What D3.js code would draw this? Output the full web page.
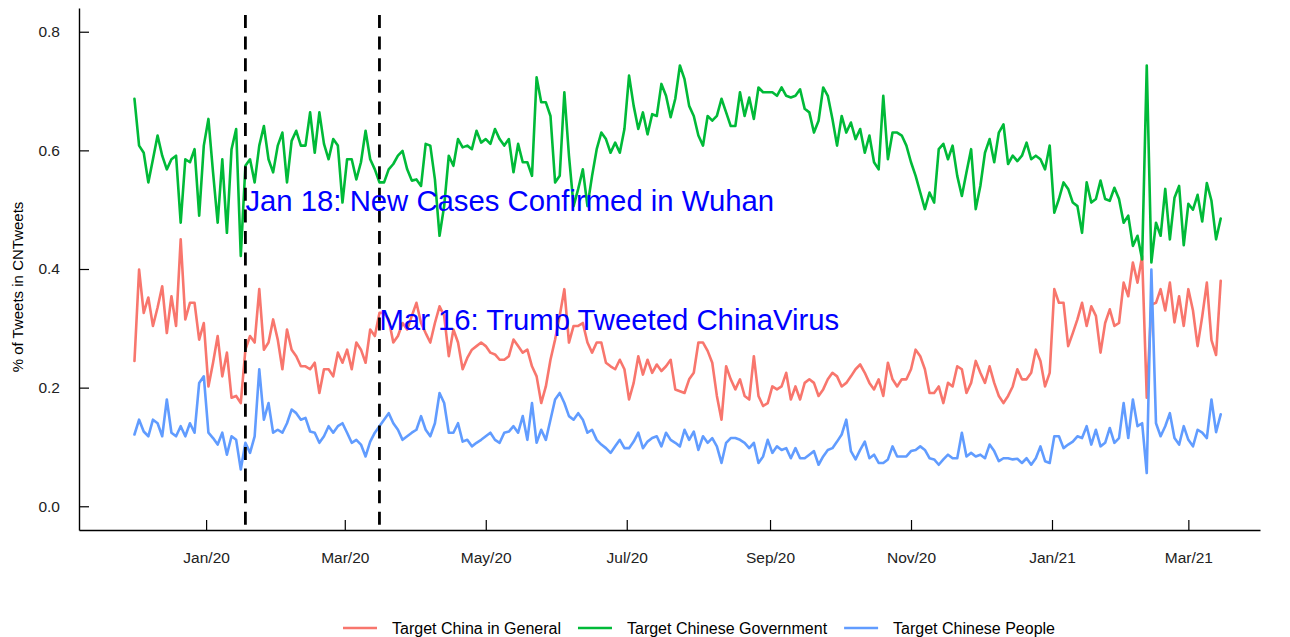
<!DOCTYPE html>
<html>
<head>
<meta charset="utf-8">
<script src="https://cdnjs.cloudflare.com/ajax/libs/d3/7.8.5/d3.min.js"></script>
<style>
  body { margin: 0; background: #fff; }
  svg { display: block; font-family: "Liberation Sans", Arial, Helvetica, sans-serif; }
</style>
</head>
<body>
<script>
"use strict";

var width = 1290,
    height = 637;

// share of tweets, one reading every 2 days starting 2019-12-01
const startDate = "2019-12-01";
const stepDays = 2;

const seriesNames = ["Target China in General", "Target Chinese Government", "Target Chinese People"];
const seriesColors = ["#F8766D", "#00BA38", "#619CFF"];

const chinaGeneral = [
  0.245, 0.399, 0.326, 0.352, 0.304, 0.335, 0.371, 0.292, 0.354, 0.304,
  0.450, 0.315, 0.343, 0.343, 0.281, 0.309, 0.202, 0.242, 0.287, 0.219,
  0.259, 0.183, 0.186, 0.174, 0.264, 0.287, 0.276, 0.366, 0.264, 0.276,
  0.315, 0.281, 0.231, 0.298, 0.264, 0.253, 0.236, 0.236, 0.231, 0.242,
  0.191, 0.231, 0.231, 0.219, 0.259, 0.242, 0.264, 0.231, 0.276, 0.264,
  0.242, 0.298, 0.287, 0.326, 0.326, 0.315, 0.276, 0.287, 0.309, 0.298,
  0.321, 0.343, 0.309, 0.292, 0.276, 0.309, 0.337, 0.321, 0.253, 0.298,
  0.276, 0.231, 0.250, 0.264, 0.270, 0.276, 0.270, 0.259, 0.256, 0.247,
  0.247, 0.253, 0.281, 0.270, 0.259, 0.264, 0.236, 0.219, 0.174, 0.202,
  0.247, 0.281, 0.321, 0.366, 0.276, 0.304, 0.304, 0.309, 0.276, 0.259,
  0.276, 0.276, 0.242, 0.236, 0.231, 0.247, 0.231, 0.180, 0.208, 0.253,
  0.222, 0.247, 0.225, 0.239, 0.228, 0.236, 0.247, 0.197, 0.194, 0.191,
  0.214, 0.225, 0.276, 0.276, 0.262, 0.242, 0.186, 0.146, 0.236, 0.214,
  0.197, 0.214, 0.186, 0.180, 0.253, 0.186, 0.169, 0.174, 0.202, 0.197,
  0.202, 0.225, 0.180, 0.202, 0.180, 0.208, 0.214, 0.208, 0.186, 0.197,
  0.214, 0.225, 0.219, 0.202, 0.208, 0.219, 0.231, 0.239, 0.225, 0.208,
  0.197, 0.214, 0.186, 0.242, 0.214, 0.202, 0.214, 0.214, 0.231, 0.264,
  0.253, 0.231, 0.191, 0.191, 0.202, 0.174, 0.208, 0.202, 0.236, 0.231,
  0.191, 0.208, 0.245, 0.225, 0.208, 0.236, 0.208, 0.186, 0.174, 0.186,
  0.202, 0.231, 0.214, 0.214, 0.225, 0.264, 0.245, 0.202, 0.225, 0.366,
  0.343, 0.343, 0.270, 0.292, 0.315, 0.343, 0.304, 0.337, 0.321, 0.259,
  0.309, 0.332, 0.304, 0.309, 0.377, 0.354, 0.411, 0.377, 0.422, 0.183,
  0.340, 0.343, 0.366, 0.330, 0.377, 0.310, 0.354, 0.304, 0.366, 0.330,
  0.270, 0.320, 0.377, 0.280, 0.255, 0.380
];

const chineseGov = [
  0.687, 0.608, 0.596, 0.546, 0.585, 0.625, 0.591, 0.568, 0.585, 0.591,
  0.478, 0.585, 0.580, 0.602, 0.490, 0.608, 0.653, 0.563, 0.478, 0.585,
  0.461, 0.602, 0.636, 0.422, 0.574, 0.585, 0.546, 0.608, 0.641, 0.585,
  0.563, 0.608, 0.630, 0.546, 0.616, 0.633, 0.608, 0.608, 0.664, 0.596,
  0.664, 0.611, 0.585, 0.619, 0.608, 0.512, 0.585, 0.585, 0.551, 0.580,
  0.633, 0.585, 0.568, 0.546, 0.546, 0.568, 0.577, 0.591, 0.599, 0.568,
  0.549, 0.551, 0.540, 0.611, 0.608, 0.551, 0.456, 0.506, 0.591, 0.574,
  0.619, 0.605, 0.608, 0.602, 0.633, 0.613, 0.619, 0.611, 0.636, 0.619,
  0.608, 0.619, 0.563, 0.611, 0.580, 0.580, 0.557, 0.723, 0.681, 0.681,
  0.658, 0.546, 0.557, 0.698, 0.591, 0.506, 0.535, 0.568, 0.506, 0.557,
  0.602, 0.630, 0.619, 0.596, 0.613, 0.596, 0.636, 0.726, 0.675, 0.636,
  0.664, 0.627, 0.661, 0.658, 0.712, 0.692, 0.656, 0.687, 0.743, 0.720,
  0.675, 0.658, 0.625, 0.608, 0.658, 0.650, 0.658, 0.687, 0.664, 0.641,
  0.641, 0.698, 0.658, 0.689, 0.653, 0.706, 0.698, 0.698, 0.698, 0.692,
  0.706, 0.692, 0.689, 0.692, 0.703, 0.670, 0.664, 0.630, 0.650, 0.706,
  0.692, 0.653, 0.608, 0.658, 0.630, 0.647, 0.619, 0.636, 0.596, 0.625,
  0.580, 0.568, 0.692, 0.585, 0.630, 0.630, 0.625, 0.608, 0.580, 0.557,
  0.529, 0.501, 0.529, 0.512, 0.602, 0.611, 0.585, 0.608, 0.557, 0.523,
  0.563, 0.602, 0.501, 0.540, 0.596, 0.619, 0.580, 0.630, 0.644, 0.577,
  0.591, 0.582, 0.591, 0.613, 0.585, 0.591, 0.585, 0.568, 0.608, 0.495,
  0.518, 0.546, 0.535, 0.512, 0.506, 0.461, 0.546, 0.512, 0.518, 0.549,
  0.518, 0.515, 0.537, 0.518, 0.478, 0.490, 0.439, 0.456, 0.416, 0.743,
  0.411, 0.478, 0.456, 0.535, 0.450, 0.520, 0.540, 0.440, 0.510, 0.500,
  0.525, 0.480, 0.545, 0.515, 0.450, 0.485
];

const chinesePeople = [
  0.121, 0.146, 0.126, 0.118, 0.146, 0.140, 0.118, 0.180, 0.124, 0.118,
  0.135, 0.118, 0.140, 0.124, 0.208, 0.219, 0.124, 0.115, 0.104, 0.124,
  0.087, 0.118, 0.112, 0.062, 0.107, 0.090, 0.118, 0.231, 0.146, 0.174,
  0.124, 0.129, 0.124, 0.140, 0.163, 0.157, 0.146, 0.149, 0.126, 0.124,
  0.107, 0.118, 0.135, 0.124, 0.135, 0.140, 0.124, 0.107, 0.112, 0.104,
  0.084, 0.109, 0.124, 0.135, 0.146, 0.157, 0.140, 0.129, 0.112, 0.118,
  0.124, 0.129, 0.152, 0.129, 0.118, 0.140, 0.191, 0.174, 0.124, 0.124,
  0.140, 0.109, 0.112, 0.101, 0.107, 0.112, 0.118, 0.124, 0.112, 0.107,
  0.124, 0.126, 0.135, 0.124, 0.152, 0.112, 0.174, 0.107, 0.129, 0.112,
  0.146, 0.180, 0.191, 0.174, 0.152, 0.146, 0.157, 0.146, 0.124, 0.129,
  0.112, 0.104, 0.098, 0.090, 0.101, 0.112, 0.098, 0.098, 0.109, 0.124,
  0.098, 0.109, 0.115, 0.118, 0.101, 0.124, 0.112, 0.107, 0.101, 0.129,
  0.112, 0.126, 0.095, 0.118, 0.107, 0.115, 0.101, 0.073, 0.107, 0.115,
  0.115, 0.112, 0.107, 0.098, 0.107, 0.073, 0.084, 0.112, 0.090, 0.101,
  0.095, 0.098, 0.081, 0.098, 0.081, 0.081, 0.087, 0.093, 0.070, 0.084,
  0.095, 0.098, 0.109, 0.121, 0.146, 0.093, 0.079, 0.095, 0.109, 0.081,
  0.087, 0.073, 0.073, 0.079, 0.101, 0.084, 0.084, 0.084, 0.093, 0.095,
  0.101, 0.095, 0.081, 0.079, 0.070, 0.079, 0.087, 0.081, 0.081, 0.124,
  0.084, 0.090, 0.084, 0.087, 0.081, 0.104, 0.093, 0.076, 0.081, 0.081,
  0.079, 0.080, 0.073, 0.081, 0.070, 0.081, 0.101, 0.076, 0.073, 0.118,
  0.118, 0.098, 0.104, 0.109, 0.118, 0.115, 0.135, 0.104, 0.129, 0.101,
  0.107, 0.132, 0.107, 0.115, 0.174, 0.115, 0.180, 0.135, 0.140, 0.056,
  0.399, 0.140, 0.118, 0.135, 0.157, 0.115, 0.104, 0.135, 0.112, 0.101,
  0.129, 0.124, 0.115, 0.180, 0.125, 0.155
];

const xLimits = ["2019-11-07", "2021-04-01"];
const xTicks = ["2020-01-01", "2020-03-01", "2020-05-01", "2020-07-01",
                "2020-09-01", "2020-11-01", "2021-01-01", "2021-03-01"];
const yTicks = [0, 0.2, 0.4, 0.6, 0.8];
const yLimits = [0, 0.8];

const eventDates = ["2020-01-18", "2020-03-16"];
const eventLabels = ["Jan 18: New Cases Confirmed in Wuhan", "Mar 16: Trump Tweeted ChinaVirus"];
const eventLabelY = [0.52, 0.32];

const yTitle = "% of Tweets in CNTweets";

let svg = "";

window.onload = function () {
    svg = d3.select("body")
        .append("svg")
        .attr("width", width)
        .attr("height", height);

    svg.append("rect")
        .attr("width", width)
        .attr("height", height)
        .attr("fill", "#fff");

    drawChart();
}

function drawChart() {
    const parse = d3.timeParse("%Y-%m-%d");
    const t0 = parse(startDate);
    const dates = chinaGeneral.map((d, i) => d3.timeDay.offset(t0, i * stepDays));

    const panel = { left: 79, right: 1260, top: 8, bottom: 530 };
    const x = d3.scaleTime()
        .domain(xLimits.map(parse))
        .range([panel.left, panel.right]);
    // y limits expanded 5% on each side like ggplot
    const ypad = (yLimits[1] - yLimits[0]) * 0.05;
    const y = d3.scaleLinear()
        .domain([yLimits[0] - ypad, yLimits[1] + ypad])
        .range([panel.bottom, panel.top]);

    // axes
    const xAxis = d3.axisBottom(x)
        .tickValues(xTicks.map(parse))
        .tickFormat(d3.timeFormat("%b/%y"))
        .tickSizeInner(-10)
        .tickSizeOuter(0)
        .tickPadding(22);
    const gx = svg.append("g")
        .attr("transform", "translate(0," + panel.bottom + ")")
        .call(xAxis);

    const yAxis = d3.axisLeft(y)
        .tickValues(yTicks)
        .tickFormat(d3.format(".1f"))
        .tickSizeInner(-10)
        .tickSizeOuter(0)
        .tickPadding(19);
    const gy = svg.append("g")
        .attr("transform", "translate(" + panel.left + ",0)")
        .call(yAxis);

    [gx, gy].forEach(g => {
        g.select(".domain").attr("stroke", "#000").attr("stroke-width", 1.4);
        g.selectAll(".tick line").attr("stroke", "#000").attr("stroke-width", 1.2);
        g.selectAll(".tick text")
            .attr("fill", "#222")
            .style("font-size", "15.5px")
            .style("font-family", "'Liberation Sans', Arial, sans-serif");
    });

    svg.append("text")
        .attr("transform", "translate(23,287) rotate(-90)")
        .attr("text-anchor", "middle")
        .style("font-size", "15px")
        .attr("fill", "#000")
        .text(yTitle);

    // series
    const series = [chinaGeneral, chineseGov, chinesePeople];
    const line = d3.line()
        .x((d, i) => x(dates[i]))
        .y(d => y(d));

    svg.append("g").selectAll("path")
        .data(series)
        .enter()
        .append("path")
        .attr("d", d => line(d))
        .attr("fill", "none")
        .attr("stroke", (d, i) => seriesColors[i])
        .attr("stroke-width", 2.6)
        .attr("stroke-linejoin", "round")
        .attr("stroke-linecap", "round");

    // event markers
    const ev = svg.append("g");
    ev.selectAll("line")
        .data(eventDates)
        .enter()
        .append("line")
        .attr("x1", d => x(parse(d)))
        .attr("x2", d => x(parse(d)))
        .attr("y1", panel.top)
        .attr("y2", panel.bottom)
        .attr("stroke", "#000")
        .attr("stroke-width", 2.8)
        .attr("stroke-dasharray", "13,8.6")
        .attr("stroke-dashoffset", 14.6);

    ev.selectAll("text")
        .data(eventDates)
        .enter()
        .append("text")
        .attr("x", d => x(parse(d)))
        .attr("y", (d, i) => y(eventLabelY[i]))
        .attr("dy", "0.45em")
        .attr("fill", "#0000FF")
        .style("font-size", "29.3px")
        .text((d, i) => eventLabels[i]);

    // legend
    const legend = svg.append("g").attr("transform", "translate(0,628)");
    let lx = 343;
    seriesNames.forEach((name, i) => {
        legend.append("line")
            .attr("x1", lx).attr("x2", lx + 34)
            .attr("y1", 0).attr("y2", 0)
            .attr("stroke", seriesColors[i])
            .attr("stroke-width", 2.6);
        const t = legend.append("text")
            .attr("x", lx + 49)
            .attr("y", 0)
            .attr("dy", "0.36em")
            .style("font-size", "16px")
            .attr("fill", "#000")
            .text(name);
        lx = lx + 49 + t.node().getComputedTextLength() + 17;
    });
}
</script>
</body>
</html>
